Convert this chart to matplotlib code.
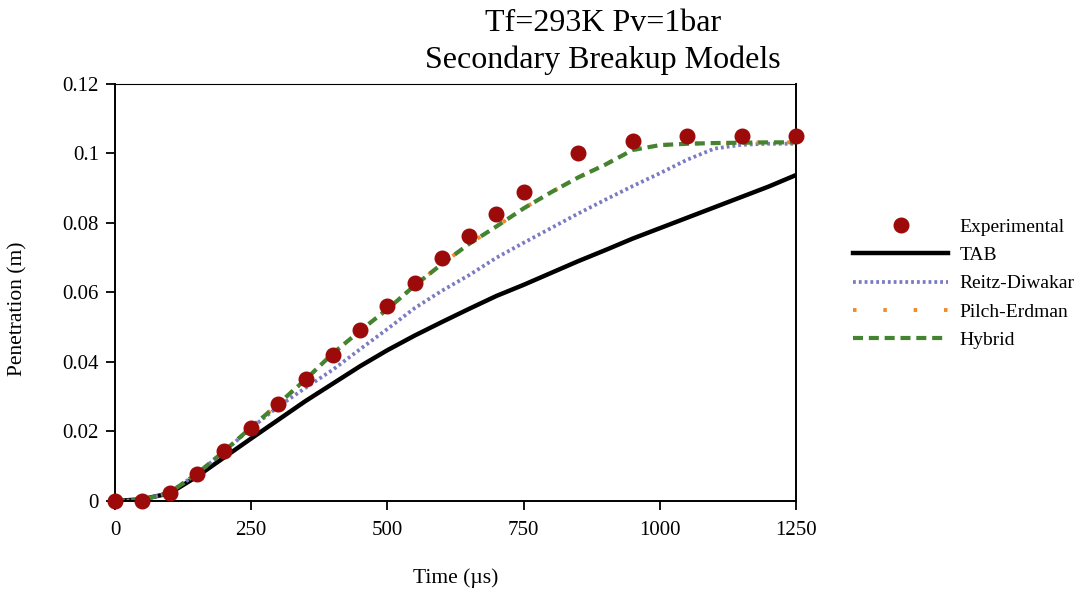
import numpy as np
import matplotlib
matplotlib.use("Agg")
import matplotlib.pyplot as plt

plt.rcParams['font.family'] = ['Liberation Serif', 'DejaVu Serif']

# experimental penetration (m) vs time (us)
t_exp = [0, 50, 100, 150, 200, 250, 300, 350, 400, 450, 500, 550, 600, 650, 700, 750,
         850, 950, 1050, 1150, 1250]
pen_exp = [0.0, 0.0, 0.0023, 0.0079, 0.0143, 0.0210, 0.0280, 0.0350, 0.0421, 0.0491,
           0.0560, 0.0628, 0.0698, 0.0763, 0.0826, 0.0888, 0.1000, 0.1036, 0.1050,
           0.1050, 0.1050]

# model curves sampled every 50 us
t_model = np.arange(0, 1251, 50)
pen_tab = [0.0, 0.0005, 0.0022, 0.0070, 0.0125, 0.0180, 0.0234, 0.0288, 0.0338, 0.0388,
           0.0434, 0.0476, 0.0515, 0.0553, 0.0590, 0.0622, 0.0656, 0.0690, 0.0722,
           0.0755, 0.0785, 0.0815, 0.0845, 0.0875, 0.0905, 0.0938]
pen_rd = [0.0, 0.0003, 0.0024, 0.0078, 0.0142, 0.0210, 0.0272, 0.0326, 0.0378, 0.0437,
          0.0495, 0.0555, 0.0605, 0.0650, 0.0700, 0.0743, 0.0785, 0.0827, 0.0867,
          0.0906, 0.0943, 0.0982, 0.1014, 0.1025, 0.1028, 0.1028]
pen_pe = [0.0, 0.0003, 0.0024, 0.0078, 0.0143, 0.0212, 0.0280, 0.0350, 0.0425, 0.0490,
          0.0552, 0.0620, 0.0682, 0.0740, 0.0790, 0.0842, 0.0888, 0.0931, 0.0968,
          0.1010, 0.1024, 0.1028, 0.1030, 0.1031, 0.1032, 0.1032]
pen_hyb = [0.0, 0.0003, 0.0024, 0.0078, 0.0143, 0.0212, 0.0280, 0.0350, 0.0425, 0.0490,
           0.0552, 0.0620, 0.0682, 0.0740, 0.0790, 0.0842, 0.0888, 0.0931, 0.0968,
           0.1010, 0.1024, 0.1028, 0.1030, 0.1031, 0.1032, 0.1032]

fig = plt.figure(figsize=(10.81, 5.91), dpi=100)
ax = fig.add_axes([0.1064, 0.1523, 0.63, 0.7056])

ax.plot(t_exp, pen_exp, 'o', color='#9c0a0a', ms=10.5, label='Experimental', clip_on=False, zorder=5)
ax.plot(t_model, pen_tab, '-', color='black', lw=3.2, label='TAB')
ax.plot(t_model, pen_rd, color='#7b7bc2', lw=2.7, ls=(0, (0.75, 0.8)), label='Reitz-Diwakar')
ax.plot(t_model, pen_pe, color='#f28a2a', lw=2.8, ls=(0, (0.9, 6.9)), label='Pilch-Erdman')
ax.plot(t_model, pen_hyb, color='#44832f', lw=3.0, ls=(0, (2.4, 1.4)), label='Hybrid')

ax.set_xlim(0, 1250)
ax.set_ylim(0, 0.12)
ax.set_xticks([0, 250, 500, 750, 1000, 1250])
yt = [0, 0.02, 0.04, 0.06, 0.08, 0.1, 0.12]
ax.set_yticks(yt)
ax.set_yticklabels(['{:g}'.format(v) for v in yt])
ax.tick_params(direction='out', length=6.5, width=1.3, labelsize=15, pad=5)
ax.tick_params(axis='x', pad=8)
for s in ax.spines.values():
    s.set_linewidth(1.4)
ax.spines['top'].set_linewidth(0.8)

ax.set_xlabel('Time (µs)', fontsize=15.5)
ax.set_ylabel('Penetration (m)', fontsize=15.5)
ax.xaxis.set_label_coords(0.5, -0.162)
ax.yaxis.set_label_coords(-0.128, 0.46)

fig.text(0.558, 0.984, 'Tf=293K Pv=1bar\nSecondary Breakup Models', ha='center', va='top',
         fontsize=23, linespacing=1.3)

fig.legend(loc='center left', bbox_to_anchor=(0.789, 0.52), frameon=False, fontsize=14,
           handlelength=4.9, handletextpad=0.6, labelspacing=0.55, borderpad=0,
           borderaxespad=0, numpoints=1)

fig.savefig('out.png', dpi=100)
